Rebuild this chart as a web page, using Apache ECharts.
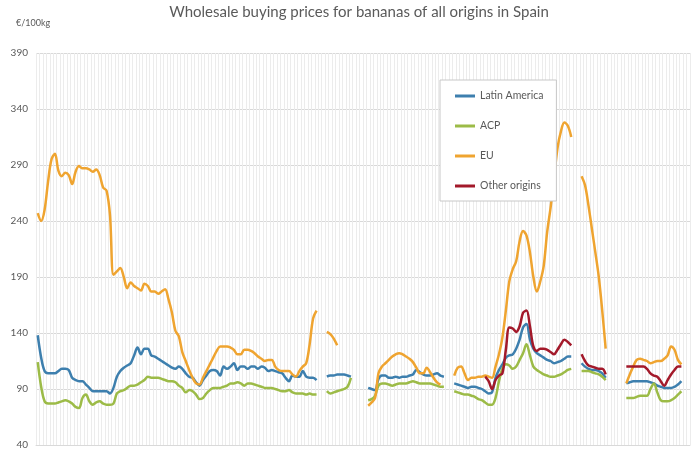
<!DOCTYPE html>
<html>
<head>
<meta charset="utf-8">
<script src="https://cdn.jsdelivr.net/npm/echarts@6/dist/echarts.min.js"></script>
<style>
html,body{margin:0;padding:0;background:#fff;}
#chart{width:700px;height:450px;}
</style>
</head>
<body>
<div id="chart"></div>
<script>
// Weekly series (null = no quotation that week)
const seriesNames = ['Latin America', 'ACP', 'EU', 'Other origins'];
const yTicks = [40, 90, 140, 190, 240, 290, 340, 390];

const latinAmerica = [
  138,118,106,104,104,104,106,108,108,107,
  100,98,97,97,94,91,88,88,88,88,
  88,86,91,101,106,109,111,113,120,127,
  121,126,126,120,119,117,115,113,111,109,
  108,110,108,104,101,100,96,93,98,102,
  106,107,106,102,110,108,110,113,107,110,
  110,108,110,110,108,110,109,106,107,106,
  105,104,100,97,102,101,101,106,101,100,
  100,98,null,null,101,102,102,103,103,103,
  102,101,null,null,null,null,91,90,89,99,
  102,102,100,100,101,100,101,101,102,103,
  107,105,103,102,102,103,104,102,101,null,
  null,95,94,93,92,91,92,92,91,90,
  88,86,87,100,107,112,118,120,121,126,
  134,145,148,134,126,122,120,118,116,115,
  113,114,115,117,119,119,null,null,113,110,
  108,107,107,106,104,100,null,null,null,null,
  null,95,96,97,97,97,97,97,96,95,
  93,92,91,91,91,92,94,97,null,null
];

const acp = [
  114,92,79,77,77,77,78,79,80,79,
  77,74,73,82,85,79,76,78,79,77,
  76,76,77,86,88,89,91,93,93,94,
  96,98,101,100,100,100,99,98,97,97,
  96,93,91,87,89,88,85,81,82,86,
  89,91,91,91,92,93,95,95,96,95,
  93,95,95,94,93,92,91,91,91,90,
  89,88,88,89,87,86,86,86,85,86,
  85,85,null,null,88,86,87,88,89,90,
  92,100,null,null,null,null,80,81,84,93,
  95,95,94,93,94,95,95,95,96,97,
  96,95,95,95,95,94,93,92,92,null,
  null,88,87,86,85,85,84,83,81,80,
  78,76,76,82,97,108,112,111,108,110,
  116,122,130,120,110,107,105,103,102,101,
  101,102,103,105,107,108,null,null,106,106,
  106,105,104,103,101,98,null,null,null,null,
  null,82,82,82,83,84,84,84,90,95,
  87,80,79,79,80,82,85,88,null,null
];

const eu = [
  247,240,250,275,295,300,285,280,283,281,
  273,284,289,287,287,286,284,286,281,270,
  267,245,192,195,198,190,180,185,182,180,
  178,184,182,177,177,175,177,179,170,158,
  142,137,123,115,107,100,95,94,100,106,
  112,118,124,128,128,128,127,125,121,121,
  125,125,124,122,119,117,115,116,116,110,
  107,106,106,106,103,101,106,110,113,130,
  153,160,null,null,141,139,135,129,null,null,
  null,null,null,null,null,null,75,78,82,104,
  110,113,116,119,121,122,121,119,117,114,
  109,104,104,109,105,100,96,94,null,null,
  null,102,109,110,104,98,100,100,101,101,
  102,101,100,110,121,136,160,186,197,204,
  222,231,227,212,190,177,186,200,230,252,
  278,305,320,328,325,315,null,null,280,272,
  254,233,212,190,160,126,null,null,null,null,
  null,95,103,110,116,117,116,115,113,114,
  115,115,117,120,128,125,116,112,null,null
];

const otherOriginsStartWeek = 130;
const otherOriginsValues = [
  101,97,90,98,102,104,125,145,144,141,
  146,158,160,146,128,124,126,126,125,123,
  121,125,130,134,132,129,null,null,121,115,
  111,110,109,108,108,103,null,null,null,null,
  null,110,110,110,110,110,110,108,104,102,
  101,97,93,98,103,107,110,110,null,null
];

const weekCount = eu.length;
const weeks = Array.from({length: weekCount}, (_, i) => 'W' + (i + 1));
const otherOrigins = new Array(otherOriginsStartWeek).fill(null).concat(otherOriginsValues);

const colors = ['#3d7fae', '#9cbb47', '#efa430', '#a3192a'];
const dataSets = [latinAmerica, acp, eu, otherOrigins];

const chart = echarts.init(document.getElementById('chart'));
chart.setOption({
  animation: false,
  backgroundColor: '#ffffff',
  title: [
    {
      text: 'Wholesale buying prices for bananas of all origins in Spain',
      left: 354, top: 0, textAlign: 'center',
      textStyle: {fontFamily: 'Lato', fontSize: 15, fontWeight: 'normal', color: '#5a5a5a'}
    },
    {
      text: '€/100kg',
      left: 11, top: 14,
      textStyle: {fontFamily: 'Lato', fontSize: 9, fontWeight: 'normal', color: '#595959'}
    }
  ],
  legend: {
    orient: 'vertical',
    left: 440, top: 80,
    padding: [9, 13, 8, 15],
    itemGap: 16,
    itemWidth: 20,
    itemHeight: 3,
    icon: 'rect',
    backgroundColor: '#ffffff',
    borderColor: '#c8c8c8',
    borderWidth: 1,
    data: seriesNames,
    textStyle: {fontFamily: 'Lato', fontSize: 10.5, color: '#595959', lineHeight: 14}
  },
  grid: {left: 36, right: 10, top: 53, bottom: 3, containLabel: false},
  xAxis: {
    type: 'category',
    data: weeks,
    boundaryGap: true,
    axisLine: {show: true, lineStyle: {color: '#d9d9d9'}},
    axisTick: {show: false},
    axisLabel: {show: false},
    splitLine: {show: true, interval: 0, lineStyle: {color: '#ececec', width: 1}}
  },
  yAxis: {
    type: 'value',
    min: yTicks[0], max: yTicks[yTicks.length - 1], interval: 50,
    axisLine: {show: false},
    axisTick: {show: false},
    axisLabel: {margin: 8, fontFamily: 'Lato', fontSize: 10, color: '#595959'},
    splitLine: {show: true, lineStyle: {color: '#d9d9d9', width: 1}}
  },
  series: seriesNames.map((name, k) => ({
    name: name,
    type: 'line',
    data: dataSets[k],
    smooth: 0.35,
    symbol: 'none',
    connectNulls: false,
    color: colors[k],
    lineStyle: {width: 2.5, color: colors[k]}
  }))
});
</script>
</body>
</html>
